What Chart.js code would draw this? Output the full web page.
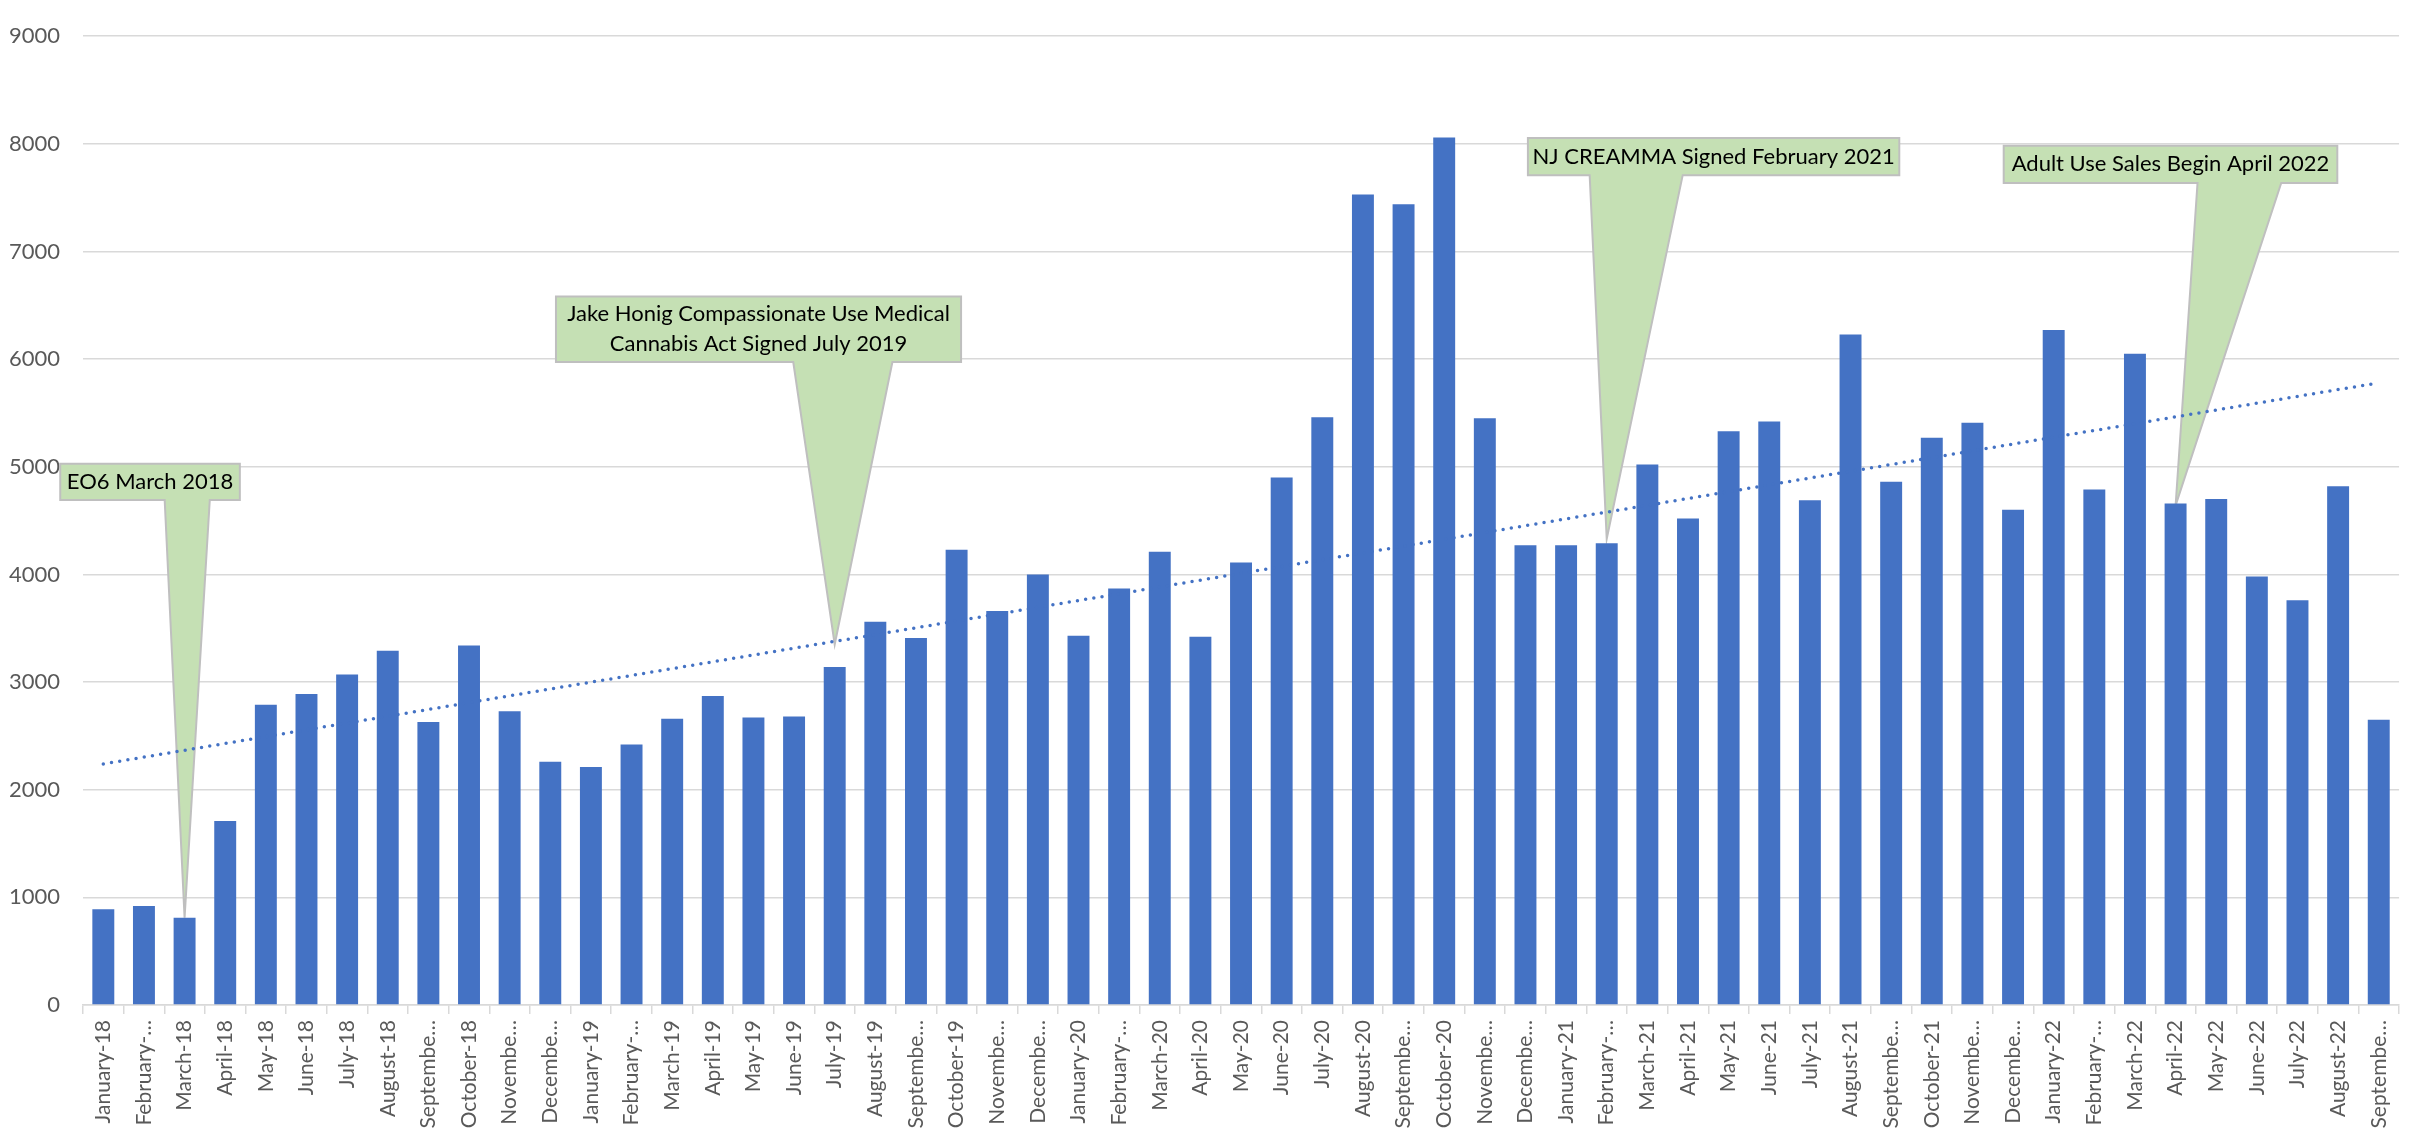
<!DOCTYPE html>
<html>
<head>
<meta charset="utf-8">
<script src="https://cdn.jsdelivr.net/npm/chart.js@4.4.1/dist/chart.umd.min.js"></script>
<style>
    html, body { margin: 0; padding: 0; background: #fff; }
    #wrap { width: 2410px; height: 1131px; }
</style>
</head>
<body>
<div id="wrap"><canvas id="chart"></canvas></div>
<script>
"use strict";

// Månader (kategorier)
const months = [
    "January-18", "February-18", "March-18", "April-18", "May-18", "June-18", "July-18", "August-18", "September-18", "October-18", "November-18", "December-18",
    "January-19", "February-19", "March-19", "April-19", "May-19", "June-19", "July-19", "August-19", "September-19", "October-19", "November-19", "December-19",
    "January-20", "February-20", "March-20", "April-20", "May-20", "June-20", "July-20", "August-20", "September-20", "October-20", "November-20", "December-20",
    "January-21", "February-21", "March-21", "April-21", "May-21", "June-21", "July-21", "August-21", "September-21", "October-21", "November-21", "December-21",
    "January-22", "February-22", "March-22", "April-22", "May-22", "June-22", "July-22", "August-22", "September-22"
];

// Värden per månad
const monthlyValues = [
    890, 920, 810, 1710, 2790, 2890, 3070, 3290, 2630, 3340, 2730, 2260,
    2210, 2420, 2660, 2870, 2670, 2680, 3140, 3560, 3410, 4230, 3660, 4000,
    3430, 3870, 4210, 3420, 4110, 4900, 5460, 7530, 7440, 8060, 5450, 4270,
    4270, 4290, 5020, 4520, 5330, 5420, 4690, 6230, 4860, 5270, 5410, 4600,
    6270, 4790, 6050, 4660, 4700, 3980, 3760, 4820, 2650
];

// Linjär trendlinje: start- och slutvärde
const trendStart = 2240;
const trendEnd = 5780;

// Y-axelns steg
const yTicks = [0, 1000, 2000, 3000, 4000, 5000, 6000, 7000, 8000, 9000];

// Pratbubblor: text, månad som pilen pekar på och värdet vid spetsen
const calloutTexts = [
    ["EO6 March 2018"],
    ["Jake Honig Compassionate Use Medical", "Cannabis Act Signed July 2019"],
    ["NJ CREAMMA Signed February 2021"],
    ["Adult Use Sales Begin April 2022"]
];
const calloutTipMonth = ["March-18", "July-19", "February-21", "April-22"];
const calloutTipValue = [810, 3350, 4330, 4640];

// Placering av rutorna i kategori-enheter (x) och axelvärden (y)
const calloutBoxes = [
    { left: -1.06, right: 3.36, top: 5027, bottom: 4691, baseL: 1.51, baseR: 2.62 },
    { left: 11.14, right: 21.11, top: 6582, bottom: 5973, baseL: 16.98, baseR: 19.42 },
    { left: 35.06, right: 44.2, top: 8055, bottom: 7709, baseL: 36.58, baseR: 38.87 },
    { left: 46.77, right: 54.98, top: 7982, bottom: 7636, baseL: 51.54, baseR: 53.6 }
];

const FONT = "Lato, 'Open Sans', sans-serif";

// Kortar av långa etiketter som Excel gör
const measureCtx = document.createElement("canvas").getContext("2d");
measureCtx.font = "21px " + FONT;
const maxLabelWidth = measureCtx.measureText("October-18").width + 2;
function shortLabel(label) {
    if (measureCtx.measureText(label).width <= maxLabelWidth) {
        return label;
    }
    let s = label;
    while (s.length > 1 && measureCtx.measureText(s + "…").width > maxLabelWidth) {
        s = s.slice(0, -1);
    }
    return s + "…";
}

// Ritar pratbubblorna före staplarna så trendprickarna syns ovanpå
const calloutPlugin = {
    id: "callouts",
    beforeDatasetsDraw(chart) {
        const { ctx, scales: { x, y } } = chart;
        const step = x.getPixelForValue(1) - x.getPixelForValue(0);
        const px = i => x.getPixelForValue(0) + i * step;

        calloutBoxes.forEach((b, i) => {
            const l = px(b.left), r = px(b.right);
            const t = y.getPixelForValue(b.top), bt = y.getPixelForValue(b.bottom);
            const tipX = x.getPixelForValue(months.indexOf(calloutTipMonth[i]));
            const tipY = y.getPixelForValue(calloutTipValue[i]);

            ctx.save();
            ctx.beginPath();
            ctx.moveTo(l, t);
            ctx.lineTo(r, t);
            ctx.lineTo(r, bt);
            ctx.lineTo(px(b.baseR), bt);
            ctx.lineTo(tipX, tipY);
            ctx.lineTo(px(b.baseL), bt);
            ctx.lineTo(l, bt);
            ctx.closePath();
            ctx.fillStyle = "#C5E0B4";
            ctx.fill();
            ctx.lineWidth = 2;
            ctx.strokeStyle = "#BFBFBF";
            ctx.lineJoin = "miter";
            ctx.stroke();

            ctx.fillStyle = "#000";
            ctx.font = "22px " + FONT;
            ctx.textAlign = "center";
            ctx.textBaseline = "middle";
            const lines = calloutTexts[i];
            const lh = 30;
            const cy = (t + bt) / 2 - (lines.length - 1) * lh / 2;
            lines.forEach((line, k) => ctx.fillText(line, (l + r) / 2, cy + k * lh));
            ctx.restore();
        });
    }
};

const ctx = document.getElementById("chart");

new Chart(ctx, {
    type: "bar",
    data: {
        labels: months,
        datasets: [
            {
                type: "line",
                data: [{ x: months[0], y: trendStart }, { x: months[months.length - 1], y: trendEnd }],
                borderColor: "#4472C4",
                borderWidth: 3.5,
                borderDash: [0, 8.3],
                borderCapStyle: "round",
                pointRadius: 0,
                fill: false,
                order: 0
            },
            {
                data: monthlyValues,
                backgroundColor: "#4472C4",
                borderWidth: 0,
                barPercentage: 0.54,
                categoryPercentage: 1,
                order: 1
            }
        ]
    },
    options: {
        responsive: true,
        maintainAspectRatio: false,
        animation: false,
        layout: { padding: { top: 15, right: 6, left: 0, bottom: 0 } },
        plugins: {
            legend: { display: false },
            tooltip: { enabled: false }
        },
        scales: {
            x: {
                grid: {
                    offset: true,
                    drawOnChartArea: false,
                    drawTicks: true,
                    tickLength: 9,
                    color: "#D9D9D9",
                    lineWidth: 1.5
                },
                border: { color: "#D9D9D9", width: 1.5 },
                ticks: {
                    autoSkip: false,
                    maxRotation: 90,
                    minRotation: 90,
                    color: "#595959",
                    font: { family: FONT, size: 21 },
                    padding: 6,
                    callback: function (value) {
                        return shortLabel(months[value]);
                    }
                },
                afterFit: scale => { scale.height = 126; }
            },
            y: {
                min: 0,
                max: 9000,
                afterBuildTicks: scale => { scale.ticks = yTicks.map(v => ({ value: v })); },
                grid: { color: "#D9D9D9", lineWidth: 1.5, drawTicks: false },
                border: { display: false },
                ticks: {
                    color: "#595959",
                    font: { family: FONT, size: 22 },
                    padding: 23,
                    callback: value => String(value) // utan tusentalsavgränsare
                },
                afterFit: scale => { scale.width = 83; }
            }
        }
    },
    plugins: [calloutPlugin]
});
</script>
</body>
</html>
